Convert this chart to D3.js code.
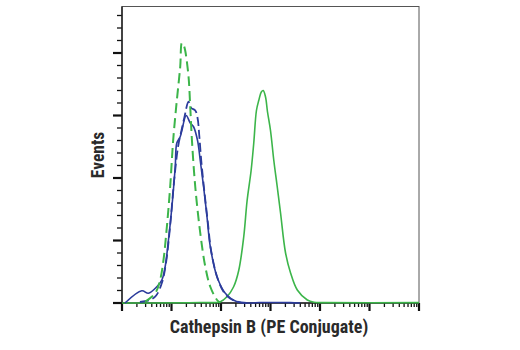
<!DOCTYPE html>
<html><head><meta charset="utf-8">
<script src="https://cdn.jsdelivr.net/npm/d3@7"></script>
<style>body{margin:0;background:#fff}svg{display:block}</style>
</head><body>
<svg id="c" width="520" height="350"></svg>
<script>
// Fluorescence intensity (x) and event counts (y) for each histogram
const blueSolidX = [1.15,2.51,3.41,5.05,6.38,7.44,8.68,10.2,11.9,12.8,15.0,16.2,19.8,23.9,27.9,33.6,38.1,44.5,52.1,60.8,83.1,122,211,393,600,1500,2500,4000];
const blueSolidY = [0,9.8,7.8,13,18.4,29,50.4,77,109,128,133,138,150,144,141,130,114,93,69,45,21,7.8,1,0,0.4,0.4,0.3,0];
const blueDashX = [2.3,3.7,4.9,6.5,7.8,9.4,11.3,13.7,15.7,18.1,22.1,25.1,30.2,33.6,36.4,39.9,45.9,54.1,63.7,88.3,128,205,393];
const blueDashY = [0.8,2.4,6,17,33,62,98,126,137,148,161,156,154,148,134,114,90,65,41,18,6,1.2,0];
const greenDashX = [2.93,4.0,4.89,5.89,6.87,8.06,9.4,10.8,12.8,15.0,16.2,17.7,18.9,22.1,23.9,25.9,30.2,38.1,48.2,60.8,83.1,97];
const greenDashY = [1,5,9,18.4,34,61,93,130,162,189,208,206,202,181,157,130,93,56,29,13,2.4,0.2];
const greenSolidX = [1,38,97,132,180,228,288,337,406,459,520,579,657,712,792,869,1000,1167,1368,1596,2015,2545,3478,5546,7552,12000,1000000];
const greenSolidY = [0,0.4,1,5,13,26,53,82,106,128,154,162,169,170,165,153,138,114,93,72,40,24,10.4,2.4,0.6,0.3,0.3];
const xDecades = [1,10,100,1000,10000,100000,1000000];
const yMajorTicks = [0,50,100,150,200];
const xLabel = "Cathepsin B (PE Conjugate)";
const yLabel = "Events";

const svg = d3.select("#c");
const L = 122, R = 419, T = 6.5, B = 303;
const x = d3.scaleLog().domain([1,1e6]).range([L,R]);
const y = d3.scaleLinear().domain([0,237.2]).range([B,T]);

// frame
svg.append("rect").attr("x",L).attr("y",T).attr("width",R-L).attr("height",B-T)
  .attr("fill","none").attr("stroke","#555").attr("stroke-width",1);

// y ticks
const yMinor = d3.range(0,231,10).filter(v=>!yMajorTicks.includes(v));
svg.append("g").selectAll("line").data(yMinor).join("line")
  .attr("x1",L-5).attr("x2",L).attr("y1",d=>y(d)).attr("y2",d=>y(d))
  .attr("stroke","#111").attr("stroke-width",1.3);
svg.append("g").selectAll("line").data(yMajorTicks).join("line")
  .attr("x1",L-9).attr("x2",L).attr("y1",d=>y(d)).attr("y2",d=>y(d))
  .attr("stroke","#111").attr("stroke-width",2.2);

// x ticks
const xMinor = [];
xDecades.slice(0,-1).forEach(d=>{for(let k=2;k<=9;k++) xMinor.push(d*k);});
svg.append("g").selectAll("line").data(xMinor).join("line")
  .attr("x1",d=>x(d)).attr("x2",d=>x(d)).attr("y1",B).attr("y2",B+4)
  .attr("stroke","#111").attr("stroke-width",1.3);
svg.append("g").selectAll("line").data(xDecades).join("line")
  .attr("x1",d=>x(d)).attr("x2",d=>x(d)).attr("y1",B).attr("y2",B+8)
  .attr("stroke","#111").attr("stroke-width",2.2);

// axis lines
svg.append("line").attr("x1",L).attr("x2",L).attr("y1",T).attr("y2",B).attr("stroke","#222").attr("stroke-width",1.5);
svg.append("line").attr("x1",L).attr("x2",R).attr("y1",B).attr("y2",B).attr("stroke","#222").attr("stroke-width",1.5);

const line = d3.line().x(d=>x(d[0])).y(d=>y(d[1])).curve(d3.curveCatmullRom.alpha(0.5));
const zip = (a,b)=>a.map((v,i)=>[v,b[i]]);
const green = "#3cb54a", blue = "#2c3c9c";

svg.append("path").attr("d",line(zip(greenSolidX,greenSolidY))).attr("fill","none").attr("stroke",green).attr("stroke-width",1.6);
svg.append("path").attr("d",line(zip(blueSolidX,blueSolidY))).attr("fill","none").attr("stroke",blue).attr("stroke-width",1.6);
svg.append("path").attr("d",line(zip(blueDashX,blueDashY))).attr("fill","none").attr("stroke",blue).attr("stroke-width",1.8).attr("stroke-dasharray","9,4");
svg.append("path").attr("d",line(zip(greenDashX,greenDashY))).attr("fill","none").attr("stroke",green).attr("stroke-width",2).attr("stroke-dasharray","10,5");

const font = "'Liberation Sans Narrow','Roboto Condensed','Liberation Sans',Arial,sans-serif";
svg.append("text").attr("x",269).attr("y",333).attr("text-anchor","middle")
  .attr("font-family",font).attr("font-weight","bold").attr("font-size",18).attr("fill","#2a2a2a").text(xLabel);
svg.append("text").attr("transform",`translate(104,${155}) rotate(-90)`).attr("text-anchor","middle")
  .attr("font-family",font).attr("font-weight","bold").attr("font-size",17.5).attr("fill","#2a2a2a").text(yLabel);
</script>
</body></html>
